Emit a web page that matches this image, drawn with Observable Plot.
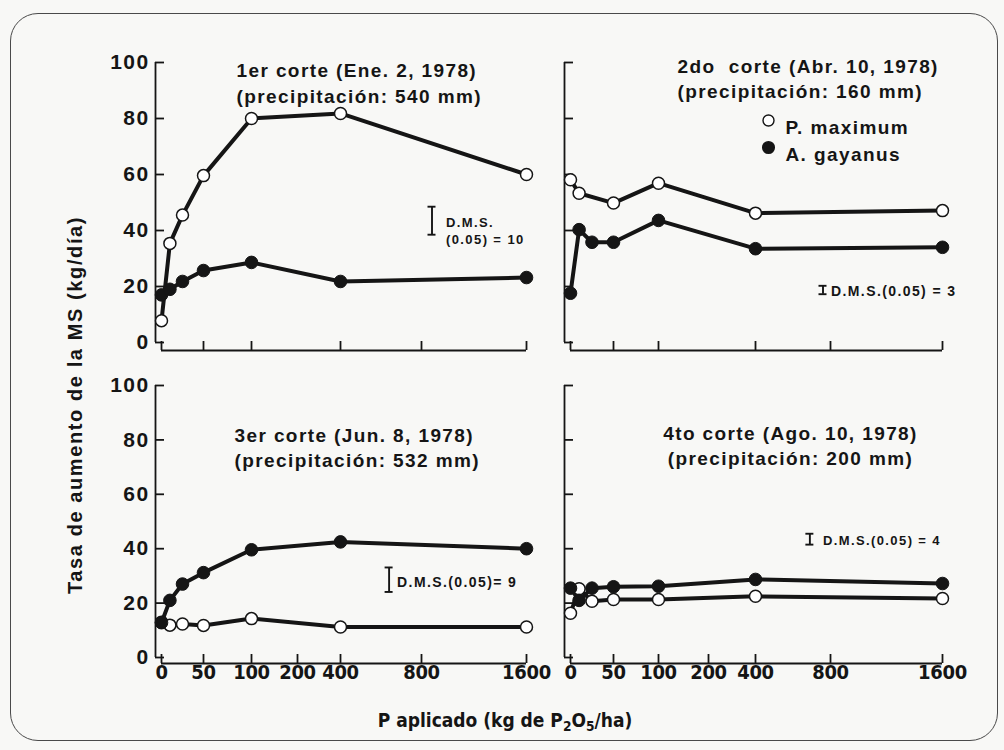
<!DOCTYPE html>
<html lang="es">
<head>
<meta charset="utf-8">
<script src="https://cdn.jsdelivr.net/npm/d3@7"></script>
<script src="https://cdn.jsdelivr.net/npm/@observablehq/plot@0.6"></script>
<style>
  html, body { margin: 0; padding: 0; background: #f8f8f6; }
  #wrap { position: relative; width: 1004px; height: 750px; overflow: hidden; background: #f8f8f6;
          font-family: "Liberation Sans", Arial, Helvetica, sans-serif; font-weight: bold; color: #151515; }
  #border { position: absolute; left: 10px; top: 13px; width: 988px; height: 728px; box-sizing: border-box;
            border: 1.6px solid #4a4a4a; border-radius: 28px; }
  .panel { position: absolute; }
  .panel svg { overflow: visible; }
  .panel svg text { letter-spacing: 1.4px; }
  .panel svg g[font-family*="Narrow"] text { letter-spacing: -0.3px; }
  #ylab { position: absolute; left: 75px; top: 405px; transform: translate(-50%, -50%) rotate(-90deg);
          white-space: nowrap; font-size: 20px; letter-spacing: 1.6px; }
  #xlab { position: absolute; left: 505px; top: 720px; transform: translate(-50%, -50%); white-space: nowrap;
          font-family: "Liberation Sans Narrow", "DejaVu Sans Condensed", "Arial Narrow", sans-serif; font-size: 19px; }
  #xlab sub { font-size: 0.72em; vertical-align: -0.3em; line-height: 0; }
</style>
</head>
<body>
<div id="wrap">
  <div id="border"></div>
  <div id="ylab">Tasa de aumento de la MS (kg/día)</div>
  <div id="xlab">P aplicado (kg de P<sub>2</sub>O<sub>5</sub>/ha)</div>
</div>
<script>
// ---------------- data ----------------
const doses = [0, 10, 25, 50, 100, 400, 1600];
const speciesNames = ["P. maximum", "A. gayanus"];
const cutTitles = ["1er corte (Ene. 2, 1978)", "2do  corte (Abr. 10, 1978)", "3er corte (Jun. 8, 1978)", "4to corte (Ago. 10, 1978)"];
const rainfall = ["(precipitación: 540 mm)", "(precipitación: 160 mm)", "(precipitación: 532 mm)", "(precipitación: 200 mm)"];
// P. maximum (open circles), one row per cut, values per dose
const pMaximum = [
  [7.8, 35.4, 45.5, 59.6, 80, 81.8, 60],
  [58.1, 53.3, null, 49.8, 56.9, 46.2, 47.1],
  [13, 11.9, 12.3, 11.8, 14.3, 11.2, 11.2],
  [16.3, 25.3, 20.7, 21.3, 21.3, 22.5, 21.7]
];
// A. gayanus (filled circles)
const aGayanus = [
  [17, 19, 21.8, 25.7, 28.6, 21.8, 23.2],
  [17.6, 40.3, 35.8, 35.8, 43.6, 33.5, 34],
  [12.8, 21, 27, 31.2, 39.6, 42.5, 40],
  [25.5, 21, 25.5, 26, 26.2, 28.7, 27.2]
];
const xTickValues = [0, 50, 100, 200, 400, 800, 1600];
const xTickValuesTop = [0, 50, 100, 400, 800, 1600];
const yTickValues = [0, 20, 40, 60, 80, 100];
// D.M.S. (0.05) bars
const dmsValues = [10, 3, 9, 4];
const dmsLabels = ["D.M.S.\n(0.05) = 10", "D.M.S.(0.05) = 3", "D.M.S.(0.05)= 9", "D.M.S.(0.05) = 4"];
const dmsDose = [880, 760, 640, 690];
const dmsCenter = [43.5, 18.75, 28.6, 43.5];

// ---------------- layout ----------------
const ink = "#151515";
const columns = {
  left:  {off: 0,   w: 540, px: [161, 203, 251, 297, 340, 421, 526]},
  right: {off: 540, w: 464, px: [570, 613, 658, 708, 755, 830, 942]}
};
const rows = {
  top:    {off: 0,   h: 362, y100: 62,  y0: 342, gap: 8},
  bottom: {off: 362, h: 388, y100: 385, y0: 657, gap: 6}
};
const panels = [
  {col: "left",  row: "top",    yLabels: true,  xLabels: false, title: [236, 59, "start"], dms: [14, 9, 13], legend: false},
  {col: "right", row: "top",    yLabels: false, xLabels: false, title: [677, 54.5, "start"], dms: [8, 0, 14], legend: true},
  {col: "left",  row: "bottom", yLabels: true,  xLabels: true,  title: [234, 423.5, "start"], dms: [8, 1, 14], legend: false},
  {col: "right", row: "bottom", yLabels: false, xLabels: true,  title: [790, 421.5, "middle"], dms: [13, 0, 13], legend: false}
];

const wrap = document.getElementById("wrap");

panels.forEach((p, i) => {
  const C = columns[p.col], R = rows[p.row];
  const xr = C.px.map(v => v - C.off);
  const mL = xr[0] - 6, mR = 10;
  const mT = R.y100 - R.off, mB = R.h - (R.y0 - R.off);
  const fW = C.w - mL - mR, fH = R.h - mT - mB;

  const open = [], filled = [];
  doses.forEach((d, j) => {
    if (pMaximum[i][j] != null) open.push({species: speciesNames[0], dose: d, value: pMaximum[i][j]});
    if (aGayanus[i][j] != null) filled.push({species: speciesNames[1], dose: d, value: aGayanus[i][j]});
  });
  const dmsRow = [{dose: dmsDose[i], lo: dmsCenter[i] - dmsValues[i] / 2, hi: dmsCenter[i] + dmsValues[i] / 2,
                   center: dmsCenter[i], label: dmsLabels[i]}];

  const marks = [
    // y spine and inward ticks
    Plot.ruleX([0], {x: d => d, y1: 0, y2: 100, dx: -6, stroke: ink, strokeWidth: 1.8}),
    Plot.tickY(yTickValues, {y: d => d, insetRight: fW - 9, stroke: ink, strokeWidth: 1.8}),
    // x spine and inward ticks
    Plot.ruleY([0], {y: d => d, x1: 0, x2: 1600, dy: R.gap, stroke: ink, strokeWidth: 1.8}),
    Plot.tickX(p.row === "top" ? xTickValuesTop : xTickValues, {x: d => d, insetTop: fH - 9, dy: R.gap, stroke: ink, strokeWidth: 1.8}),
    // series
    Plot.line(open, {x: "dose", y: "value", stroke: ink, strokeWidth: 4}),
    Plot.line(filled, {x: "dose", y: "value", stroke: ink, strokeWidth: 4}),
    Plot.dot(open, {x: "dose", y: "value", r: 6, fill: "#fff", stroke: ink, strokeWidth: 1.5}),
    Plot.dot(filled, {x: "dose", y: "value", r: 6.3, fill: ink, stroke: ink, strokeWidth: 1}),
    // D.M.S. bar
    Plot.ruleX(dmsRow, {x: "dose", y1: "lo", y2: "hi", stroke: ink, strokeWidth: 1.9}),
    Plot.ruleY(dmsRow, {y: "lo", x1: "dose", x2: "dose", insetLeft: -4, insetRight: -4, stroke: ink, strokeWidth: 1.9}),
    Plot.ruleY(dmsRow, {y: "hi", x1: "dose", x2: "dose", insetLeft: -4, insetRight: -4, stroke: ink, strokeWidth: 1.9}),
    Plot.text(dmsRow, {x: "dose", y: "center", text: "label", textAnchor: "start", dx: p.dms[0], dy: p.dms[1],
                       fontSize: p.dms[2], lineHeight: 1.3, fill: ink}),
    // panel title
    Plot.text([cutTitles[i] + "\n" + rainfall[i]], {text: d => d, frameAnchor: "top-left",
      dx: p.title[0] - C.off - mL, dy: p.title[1] - R.off - mT, textAnchor: p.title[2],
      fontSize: 19, lineHeight: 1.33, fill: ink})
  ];

  if (p.yLabels) {
    marks.push(Plot.text(yTickValues, {y: d => d, text: d => String(d), frameAnchor: "left", dx: -6,
      textAnchor: "end", fontSize: 21, fill: ink}));
  }
  if (p.xLabels) {
    marks.push(Plot.text(xTickValues, {x: d => d, text: d => String(d), frameAnchor: "bottom", dy: 21,
      fontSize: 20, fill: ink,
      fontFamily: '"Liberation Sans Narrow", "DejaVu Sans Condensed", "Arial Narrow", sans-serif'}));
  }
  if (p.legend) {
    const lx = 768 - C.off - mL, tx = 785 - C.off - mL;
    const ly = [120 - R.off - mT, 147 - R.off - mT];
    marks.push(
      Plot.dot([speciesNames[0]], {frameAnchor: "top-left", dx: lx, dy: ly[0], r: 5.5, fill: "#fff", stroke: ink, strokeWidth: 1.4}),
      Plot.dot([speciesNames[1]], {frameAnchor: "top-left", dx: lx, dy: ly[1], r: 5.8, fill: ink, stroke: ink}),
      Plot.text([speciesNames[0]], {text: d => d, frameAnchor: "top-left", dx: tx, dy: ly[0], textAnchor: "start", fontSize: 19, fill: ink}),
      Plot.text([speciesNames[1]], {text: d => d, frameAnchor: "top-left", dx: tx, dy: ly[1], textAnchor: "start", fontSize: 19, fill: ink})
    );
  }

  const svg = Plot.plot({
    width: C.w, height: R.h,
    marginLeft: mL, marginRight: mR, marginTop: mT, marginBottom: mB,
    style: "background: transparent; overflow: visible; font-family: 'Liberation Sans', Arial, Helvetica, sans-serif; font-weight: bold; font-size: 19px;",
    x: {type: "linear", domain: xTickValues, range: xr, axis: null},
    y: {type: "linear", domain: [0, 100], range: [R.y0 - R.off, R.y100 - R.off], axis: null},
    marks
  });
  const div = document.createElement("div");
  div.className = "panel";
  div.style.left = C.off + "px";
  div.style.top = R.off + "px";
  div.style.width = C.w + "px";
  div.style.height = R.h + "px";
  div.appendChild(svg);
  wrap.appendChild(div);
});
</script>
</body>
</html>
